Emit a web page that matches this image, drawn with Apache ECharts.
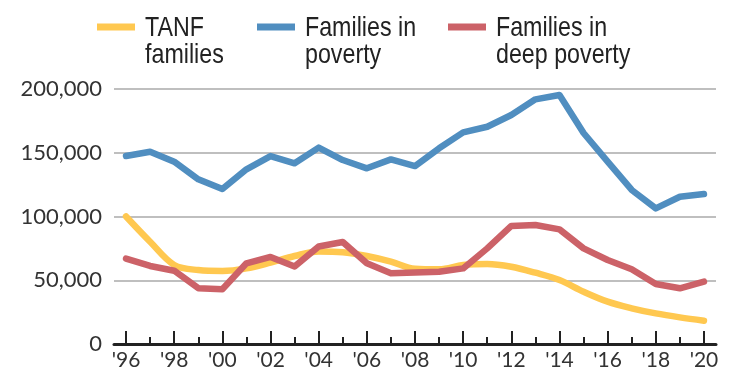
<!DOCTYPE html>
<html>
<head>
<meta charset="utf-8">
<script src="https://cdn.jsdelivr.net/npm/echarts@6/dist/echarts.min.js"></script>
<style>
  html, body { margin: 0; padding: 0; background: #fff; }
  #chart { width: 731px; height: 375px; }
</style>
</head>
<body>
<div id="chart"></div>
<script>
// Years 1996–2020, shown as two-digit tick labels
const years = ["'96","'97","'98","'99","'00","'01","'02","'03","'04","'05","'06","'07","'08",
               "'09","'10","'11","'12","'13","'14","'15","'16","'17","'18","'19","'20"];

const tanfFamilies = [100000, 80200, 62000, 58000, 57300, 59300, 63800, 69000, 72600, 72000,
                      69000, 64600, 59000, 58600, 62000, 62800, 60600, 55900, 50200, 41000,
                      33200, 28000, 24000, 20900, 18300];

const familiesInPoverty = [147400, 150800, 143000, 129200, 121500, 137000, 147400, 141700, 154000, 144300,
                           137800, 144800, 139600, 153500, 166000, 170400, 179600, 191900, 195300, 165500,
                           143000, 120800, 106400, 115500, 117600];

const familiesInDeepPoverty = [67000, 61200, 57500, 43800, 43000, 63300, 68300, 60800, 76500, 80000,
                               63300, 55500, 56000, 56600, 59300, 75000, 92600, 93300, 89900, 75000,
                               65900, 58600, 47000, 43700, 48900];

const seriesNames = ['TANF\nfamilies', 'Families in\npoverty', 'Families in\ndeep poverty'];
const seriesColors = ['#FFC850', '#508EC0', '#CC6268'];

const yTicks = { min: 0, max: 200000, interval: 50000 };

const axisFont = "Lato, 'Liberation Sans', sans-serif";
const legendFont = "'Liberation Sans', Arimo, sans-serif";

const chart = echarts.init(document.getElementById('chart'), null, { renderer: 'canvas' });

// Legend: swatch + two-line label (horizontally condensed), swatch aligned with the first line
const legendX = [97, 257, 448];
const legendGraphics = [];
seriesNames.forEach((name, i) => {
  legendGraphics.push({
    type: 'rect',
    x: legendX[i], y: 23.5,
    shape: { width: 38, height: 7 },
    style: { fill: seriesColors[i] }
  });
  legendGraphics.push({
    type: 'text',
    x: legendX[i] + 48, y: 14.5,
    scaleX: 0.83,
    style: {
      text: name,
      font: '28px ' + legendFont,
      lineHeight: 27.5,
      fill: '#222'
    }
  });
});

function lineSeries(name, data, color, smooth) {
  return {
    name: name,
    type: 'line',
    data: data,
    smooth: smooth,
    showSymbol: false,
    symbol: 'none',
    lineStyle: { color: color, width: 6.5, cap: 'round', join: 'round' },
    itemStyle: { color: color },
    emphasis: { disabled: true },
    silent: true,
    z: 3
  };
}

chart.setOption({
  animation: false,
  backgroundColor: '#fff',
  grid: { left: 114, right: 15, top: 89, bottom: 31, containLabel: false, outerBoundsMode: 'none' },
  graphic: legendGraphics,
  xAxis: [
    {
      type: 'category',
      data: years,
      boundaryGap: true,
      axisLine: { show: true, lineStyle: { color: '#222', width: 3 } },
      axisTick: { show: true, alignWithLabel: true, interval: 1, inside: true, length: 13,
                  lineStyle: { color: '#222', width: 2 } },
      axisLabel: { interval: 1, margin: 6, color: '#333', fontSize: 21, fontFamily: axisFont },
      splitLine: { show: false }
    },
    {
      type: 'category',
      data: years,
      boundaryGap: true,
      position: 'bottom',
      axisLine: { show: false },
      axisTick: { show: true, alignWithLabel: true, inside: true, length: 7,
                  interval: (i) => i % 2 === 1,
                  lineStyle: { color: '#222', width: 2 } },
      axisLabel: { show: false },
      splitLine: { show: false }
    }
  ],
  yAxis: {
    type: 'value',
    min: yTicks.min,
    max: yTicks.max,
    interval: yTicks.interval,
    axisLine: { show: false },
    axisTick: { show: false },
    axisLabel: {
      margin: 12, color: '#333', fontSize: 22, fontFamily: axisFont,
      formatter: (v) => v.toLocaleString('en-US')
    },
    splitLine: { show: true, lineStyle: { color: '#aaaaaa', width: 1.5 } }
  },
  series: [
    lineSeries(seriesNames[0], tanfFamilies, seriesColors[0], 0.35),
    lineSeries(seriesNames[1], familiesInPoverty, seriesColors[1], false),
    lineSeries(seriesNames[2], familiesInDeepPoverty, seriesColors[2], false)
  ]
});
</script>
</body>
</html>
